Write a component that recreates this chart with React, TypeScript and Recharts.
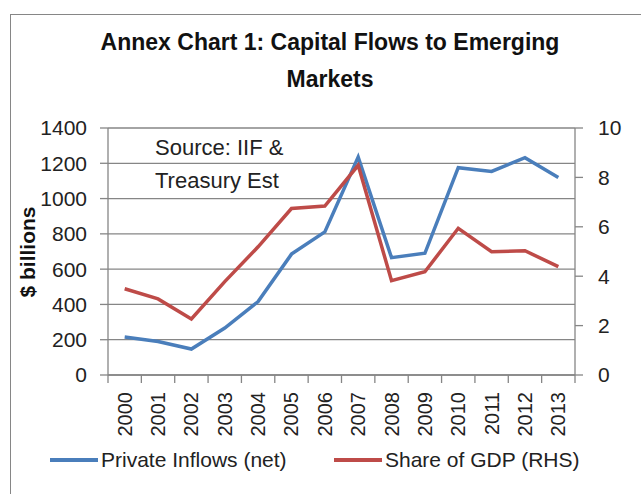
import React from 'react';
import { LineChart, Line, XAxis, YAxis, CartesianGrid, Legend } from 'recharts';

const years = ['2000', '2001', '2002', '2003', '2004', '2005', '2006', '2007', '2008', '2009', '2010', '2011', '2012', '2013'];
// $ billions, left axis
const privateInflows = [215, 190, 147, 266, 416, 685, 811, 1235, 665, 690, 1175, 1154, 1232, 1119];
// % of GDP, right axis
const shareOfGdp = [3.49, 3.08, 2.27, 3.78, 5.19, 6.74, 6.84, 8.49, 3.82, 4.18, 5.94, 4.99, 5.03, 4.39];
const leftTicks = [0, 200, 400, 600, 800, 1000, 1200, 1400];
const rightTicks = [0, 2, 4, 6, 8, 10];

const data = years.map((y, i) => ({ i, year: y, inflows: privateInflows[i], share: shareOfGdp[i] }));
// label ticks at category centres, tick marks at category edges
const xTicks = [-0.5, ...years.flatMap((_, i) => [i, i + 0.5])];

const FONT = '"Liberation Sans", Arial, sans-serif';
const BLUE = '#4A7EBB';
const RED = '#BE4B48';
const GREY = '#868686';

const XTick = (props: any) => {
    const { x, y, payload } = props;
    const v = payload.value;
    if (!Number.isInteger(v)) {
        return <line x1={x} x2={x} y1={y} y2={y + 8} stroke={GREY} strokeWidth={1.3} />;
    }
    return (
        <text
            x={x}
            y={y + 17}
            transform={`rotate(-90, ${x}, ${y + 17})`}
            textAnchor="end"
            dominantBaseline="central"
            fontSize={20}
            fill="#222"
            fontFamily={FONT}
        >
            {years[v]}
        </text>
    );
};

const LegendContent = (props: any) => {
    const lefts = [50, 334];
    return (
        <div style={{ position: 'relative', width: 641, height: 30 }}>
            {(props.payload || []).map((p: any, idx: number) => (
                <div
                    key={p.value}
                    style={{ position: 'absolute', left: lefts[idx], top: 0, display: 'flex', alignItems: 'center', height: 30 }}
                >
                    <span style={{ display: 'inline-block', width: 48, height: 4, background: p.color, marginRight: 3 }} />
                    <span style={{ fontSize: 21, color: '#222', fontFamily: FONT, whiteSpace: 'nowrap' }}>{p.value}</span>
                </div>
            ))}
        </div>
    );
};

export default function App() {
    return (
        <div style={{ position: 'absolute', left: 0, top: 0, width: 641, height: 494, background: '#fff', fontFamily: FONT, overflow: 'hidden' }}>
            <div style={{ position: 'absolute', left: 10, top: 14, width: 640, height: 490, borderTop: `1px solid ${GREY}`, borderLeft: `1px solid ${GREY}` }} />
            <div
                style={{
                    position: 'absolute', left: 0, top: 24, width: 660, textAlign: 'center',
                    fontWeight: 'bold', fontSize: 23, lineHeight: '37px', color: '#111',
                }}
            >
                Annex Chart 1: Capital Flows to Emerging
                <br />
                Markets
            </div>
            <LineChart width={641} height={494} data={data} margin={{ top: 128, right: 0, bottom: 118, left: 0 }}>
                <CartesianGrid vertical={false} stroke={GREY} strokeWidth={1.3} yAxisId="left" />
                <XAxis
                    dataKey="i"
                    type="number"
                    domain={[-0.5, 13.5]}
                    ticks={xTicks}
                    interval={0}
                    height={1}
                    tickSize={0}
                    tickMargin={0}
                    tickLine={false}
                    axisLine={{ stroke: GREY, strokeWidth: 1.3 }}
                    tick={<XTick />}
                />
                <YAxis
                    yAxisId="left"
                    width={108}
                    domain={[0, 1400]}
                    ticks={leftTicks}
                    interval={0}
                    tickSize={8}
                    tickMargin={13}
                    axisLine={{ stroke: GREY, strokeWidth: 1.3 }}
                    tickLine={{ stroke: GREY, strokeWidth: 1.3 }}
                    tick={{ fontSize: 21, fill: '#222', fontFamily: FONT }}
                />
                <YAxis
                    yAxisId="right"
                    orientation="right"
                    width={66}
                    domain={[0, 10]}
                    ticks={rightTicks}
                    interval={0}
                    tickSize={8}
                    tickMargin={15}
                    axisLine={{ stroke: GREY, strokeWidth: 1.3 }}
                    tickLine={{ stroke: GREY, strokeWidth: 1.3 }}
                    tick={{ fontSize: 21, fill: '#222', fontFamily: FONT }}
                />
                <Line
                    yAxisId="left"
                    dataKey="inflows"
                    name="Private Inflows (net)"
                    stroke={BLUE}
                    strokeWidth={3.5}
                    dot={false}
                    type="linear"
                    isAnimationActive={false}
                />
                <Line
                    yAxisId="right"
                    dataKey="share"
                    name="Share of GDP (RHS)"
                    stroke={RED}
                    strokeWidth={3.5}
                    dot={false}
                    type="linear"
                    isAnimationActive={false}
                />
                <Legend
                    layout="horizontal"
                    verticalAlign="middle"
                    align="center"
                    wrapperStyle={{ position: 'absolute', top: 445, left: 0, width: 641, height: 30 }}
                    content={<LegendContent />}
                />
            </LineChart>
            <div style={{ position: 'absolute', left: 155, top: 131, fontSize: 22, lineHeight: '33px', color: '#222' }}>
                Source: IIF &amp;
                <br />
                Treasury Est
            </div>
            <div
                style={{
                    position: 'absolute', left: 28, top: 252, transform: 'translate(-50%, -50%) rotate(-90deg)',
                    fontWeight: 'bold', fontSize: 21, whiteSpace: 'nowrap', color: '#111',
                }}
            >
                $ billions
            </div>
        </div>
    );
}
